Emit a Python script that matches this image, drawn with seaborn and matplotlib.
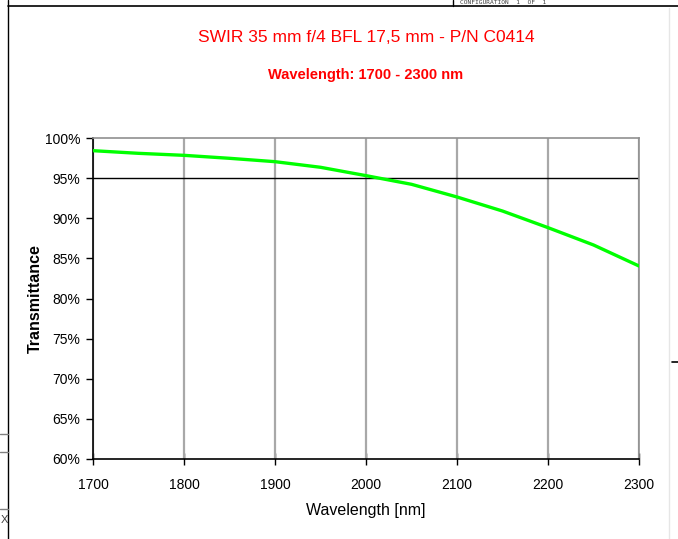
"""SWIR lens transmittance curve (1700 - 2300 nm)."""

import matplotlib
matplotlib.use("Agg")
import matplotlib.pyplot as plt
from matplotlib.lines import Line2D
from matplotlib.ticker import FuncFormatter, MultipleLocator
import pandas as pd
import seaborn as sns

wavelength = [1700, 1750, 1800, 1850, 1900, 1950, 2000, 2050, 2100, 2150, 2200, 2250, 2300]
transmittance = [98.42, 98.09, 97.84, 97.47, 97.05, 96.35, 95.31, 94.23, 92.65, 90.90, 88.83, 86.67, 84.05]

title = "SWIR 35 mm f/4 BFL 17,5 mm - P/N C0414"
subtitle = "Wavelength: 1700 - 2300 nm"

sns.set_theme(style="white")
plt.rcParams["font.family"] = ["Liberation Sans", "DejaVu Sans"]
plt.rcParams["text.color"] = "black"
plt.rcParams["axes.labelcolor"] = "black"

df = pd.DataFrame({"wavelength": wavelength, "transmittance": transmittance})

fig = plt.figure(figsize=(6.78, 5.39), dpi=100)
ax = fig.add_axes([93 / 678, 1 - 459 / 539, 546 / 678, 321 / 539])

for x in range(1700, 2301, 100):
    ax.axvline(x, color="#a8a8a8", linewidth=1.6, zorder=1)
ax.axhline(95, color="black", linewidth=1.0, zorder=2)

sns.lineplot(data=df, x="wavelength", y="transmittance", color="#00ff00",
             linewidth=2.4, ax=ax, zorder=3)

ax.set_xlim(1700, 2300)
ax.set_ylim(60, 100)
ax.xaxis.set_major_locator(MultipleLocator(100))
ax.yaxis.set_major_locator(MultipleLocator(5))
ax.yaxis.set_major_formatter(FuncFormatter(lambda v, _: f"{v:.0f}%"))
ax.tick_params(axis="both", labelsize=10, colors="black", length=5, width=1,
               direction="out", pad=4)
ax.tick_params(axis="x", direction="inout", length=8, pad=10)
ax.tick_params(left=True, bottom=True)

for side in ["left", "bottom"]:
    ax.spines[side].set_color("black")
    ax.spines[side].set_linewidth(1.2)
for side in ["top", "right"]:
    ax.spines[side].set_color("#909090")
    ax.spines[side].set_linewidth(1.2)

ax.set_xlabel("Wavelength [nm]", fontsize=11.5, color="black")
ax.xaxis.set_label_coords(0.5, -(503 - 459) / 321)
ax.set_ylabel("Transmittance", fontsize=11.5, fontweight="bold", color="black")
ax.yaxis.set_label_coords(-(93 - 43) / 546, 0.5)

fig.text(366 / 678, 1 - 37 / 539, title, color="#ff0000", fontsize=12.5,
         ha="center", va="center")
fig.text(366 / 678, 1 - 75 / 539, subtitle, color="#ff0000", fontsize=10.5,
         fontweight="bold", ha="center", va="center")

# page frame remnants around the pasted chart
fig.add_artist(Line2D([8 / 678, 8 / 678], [0, 1], color="black", linewidth=1))
fig.add_artist(Line2D([8 / 678, 1], [1 - 6 / 539, 1 - 6 / 539], color="black", linewidth=1.2))
fig.add_artist(Line2D([453 / 678, 453 / 678], [1 - 6 / 539, 1], color="black", linewidth=1))
fig.add_artist(Line2D([669 / 678, 669 / 678], [0, 1 - 8 / 539], color="#e6e6e6", linewidth=1))
for y in [434, 452, 509]:
    fig.add_artist(Line2D([0, 8 / 678], [1 - y / 539, 1 - y / 539], color="#808080", linewidth=1))
fig.add_artist(Line2D([672 / 678, 1], [1 - 362 / 539, 1 - 362 / 539], color="black", linewidth=1.2))
fig.text(460 / 678, 1 - 2.5 / 539, "CONFIGURATION  1  OF  1", family="DejaVu Sans Mono",
         fontsize=4.5, color="#404040", ha="left", va="center")
fig.text(1 / 678, 1 - 520 / 539, "X", fontsize=8, color="#404040", ha="left", va="center")

fig.savefig("out.png", dpi=100)
